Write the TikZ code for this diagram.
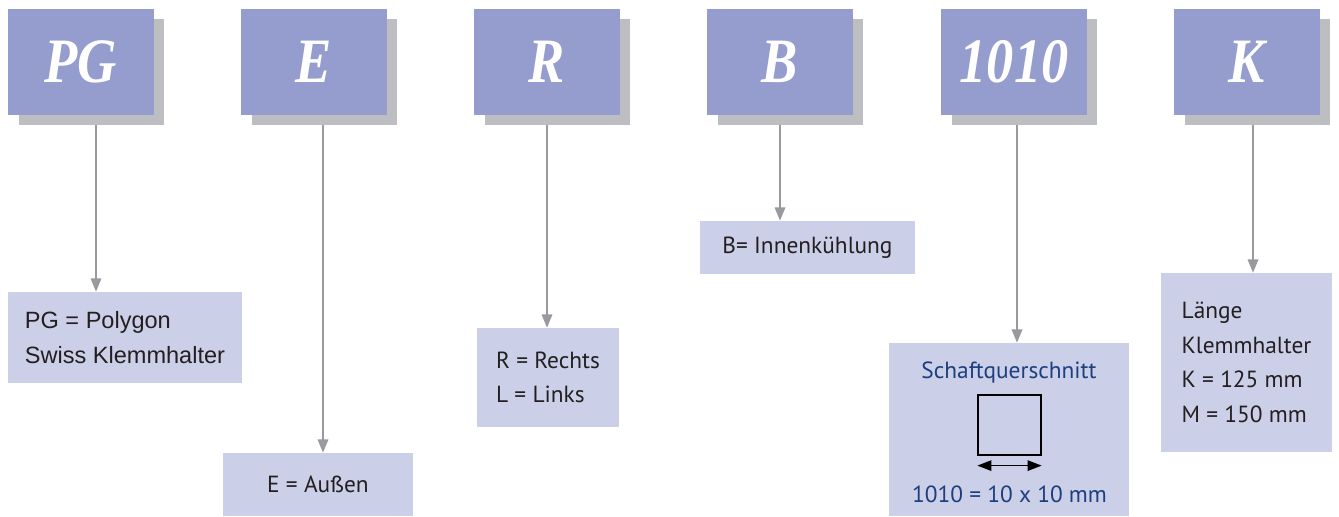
\documentclass[tikz,border=0pt]{standalone}
\usepackage{fontspec}
\setmainfont{PT Sans}
\newfontfamily\headfont[FakeStretch=0.86]{Liberation Serif}
\newfontfamily\helvfont{Liberation Sans}
\usetikzlibrary{arrows.meta,shadows}

\definecolor{keyfill}{RGB}{149,156,206}
\definecolor{infofill}{RGB}{203,207,232}
\definecolor{shade}{RGB}{189,190,194}
\definecolor{linkgray}{RGB}{154,154,158}
\definecolor{txt}{RGB}{35,31,32}
\definecolor{navy}{RGB}{29,63,126}

\begin{document}
\begin{tikzpicture}[
    x = 0.02cm,
    y = -0.02cm,
    key/.style = {
      fill = keyfill,
      text = white,
      inner sep = 0pt,
      minimum width = 2.92cm,
      minimum height = 2.12cm,
      font = \headfont\bfseries\itshape\fontsize{36}{36}\selectfont,
      drop shadow = {shadow xshift = 0.21cm, shadow yshift = -0.2cm,
                     fill = shade, opacity = 1}
    },
    info/.style = {
      fill = infofill,
      text = txt,
      inner sep = 0pt,
      align = left,
      font = \fontsize{13.3}{19.6}\selectfont
    },
    link/.style = {
      draw = linkgray,
      line width = 0.9pt,
      -{Triangle[length=7.5pt, width=6pt]}
    },
    dim/.style = {
      line width = 0.8pt,
      {Triangle[length=8pt, width=6pt]}-{Triangle[length=8pt, width=6pt]}
    }
  ]
  \useasboundingbox (0,0) rectangle (1339,517);

  \node[key] (PG) at (81,62) {PG};
  \node[key] (E) at (314,62) {E};
  \node[key] (R) at (547,62) {R};
  \node[key] (B) at (780,62) {B};
  \node[key] (D) at (1014,62) {1010};
  \node[key] (K) at (1247,62) {K};

  \node[info, minimum width = 4.68cm, minimum height = 1.82cm,
        font = \helvfont\fontsize{13.4}{19.6}\selectfont]
    (PGd) at (125,337.5) {PG = Polygon\\Swiss Klemmhalter};
  \node[info, minimum width = 3.8cm, minimum height = 1.26cm]
    (Ed) at (318,484.5) {E = Außen};
  \node[info, minimum width = 2.84cm, minimum height = 1.98cm]
    (Rd) at (548,377.5) {R = Rechts\\L = Links};
  \node[info, minimum width = 4.3cm, minimum height = 1.06cm]
    (Bd) at (807.5,247.5) {B= Innenkühlung};
  \node[info, minimum width = 4.8cm, minimum height = 3.46cm]
    (Dd) at (1009,429.5) {};
  \node[info, minimum width = 3.42cm, minimum height = 3.58cm]
    (Kd) at (1246.5,362.5) {Länge\\Klemmhalter\\K = 125 mm\\M = 150 mm};

  \node[text = navy, font = \fontsize{13.3}{16}\selectfont]
    (title) at (1009,373) {Schaftquerschnitt};
  \node[draw, line width = 0.7pt, inner sep = 0pt,
        minimum width = 1.26cm, minimum height = 1.2cm]
    (sq) at (1009.5,425) {};
  \draw[dim] ([yshift=-0.2cm]sq.south west) -- ([yshift=-0.2cm]sq.south east);
  \node[text = navy, font = \fontsize{13.3}{16}\selectfont]
    (size) at (1009.5,494) {1010 = 10 x 10 mm};

  \coordinate (PGa) at (96,125);
  \coordinate (Ea) at (323,125);
  \coordinate (Ra) at (547,125);
  \coordinate (Ba) at (780,125);
  \coordinate (Da) at (1017,125);
  \coordinate (Ka) at (1253,125);

  \draw[link] (PGa) -- (PGa |- PGd.north);
  \draw[link] (Ea) -- (Ea |- Ed.north);
  \draw[link] (Ra) -- (Ra |- Rd.north);
  \draw[link] (Ba) -- (Ba |- Bd.north);
  \draw[link] (Da) -- (Da |- Dd.north);
  \draw[link] (Ka) -- (Ka |- Kd.north);
\end{tikzpicture}
\end{document}
